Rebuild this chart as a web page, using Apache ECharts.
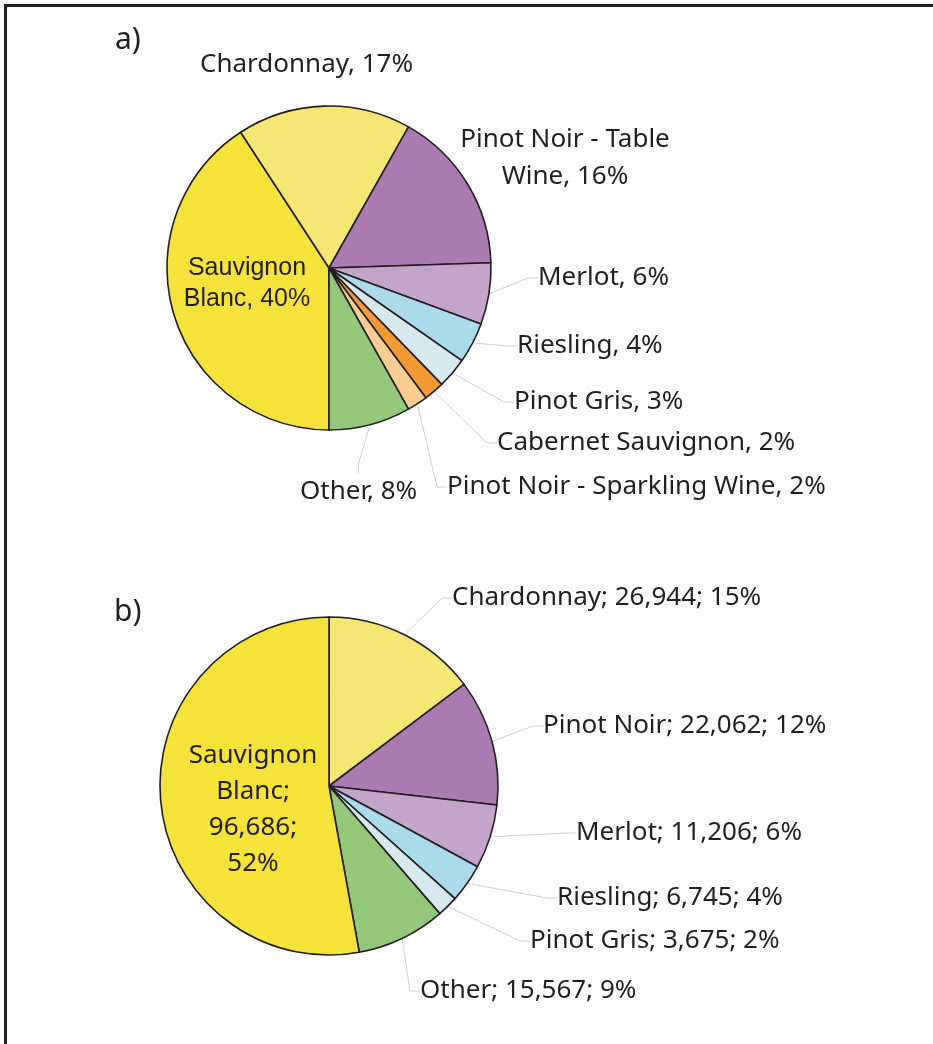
<!DOCTYPE html>
<html>
<head>
<meta charset="utf-8">
<script src="https://cdn.jsdelivr.net/npm/echarts@6/dist/echarts.min.js"></script>
<style>
  html, body { margin: 0; padding: 0; background: #fff; }
  #frame {
    position: absolute; left: 4px; top: 4px; width: 929px; height: 1040px;
    border-top: 3px solid #231f20; border-left: 3px solid #231f20;
    box-sizing: border-box;
  }
  #chart { position: absolute; left: 0; top: 0; width: 933px; height: 1044px; }
</style>
</head>
<body>
<div id="frame"></div>
<div id="chart"></div>
<script>
// a) share of planted area by variety (percent), clockwise from 6 o'clock
const namesA = ['Sauvignon Blanc', 'Chardonnay', 'Pinot Noir - Table Wine', 'Merlot', 'Riesling',
  'Pinot Gris', 'Cabernet Sauvignon', 'Pinot Noir - Sparkling Wine', 'Other'];
const valuesA = [40, 17, 16, 6, 4, 3, 2, 2, 8];
const labelsA = ['Sauvignon\nBlanc, 40%', 'Chardonnay, 17%', 'Pinot Noir - Table\nWine, 16%', 'Merlot, 6%',
  'Riesling, 4%', 'Pinot Gris, 3%', 'Cabernet Sauvignon, 2%', 'Pinot Noir - Sparkling Wine, 2%', 'Other, 8%'];

// b) production by variety (tonnes; percent), clockwise from 12 o'clock
const namesB = ['Chardonnay', 'Pinot Noir', 'Merlot', 'Riesling', 'Pinot Gris', 'Other', 'Sauvignon Blanc'];
const valuesB = [26944, 22062, 11206, 6745, 3675, 15567, 96686];
const labelsB = ['Chardonnay; 26,944; 15%', 'Pinot Noir; 22,062; 12%', 'Merlot; 11,206; 6%',
  'Riesling; 6,745; 4%', 'Pinot Gris; 3,675; 2%', 'Other; 15,567; 9%', 'Sauvignon\nBlanc;\n96,686;\n52%'];

const colorsA = ['#f5e23a', '#f6e673', '#ad7bb4', '#c5a4cb', '#a9dbeb', '#d5e9ef', '#f49a34', '#f9cd92', '#93c87b'];
const colorsB = ['#f6e673', '#ad7bb4', '#c5a4cb', '#a9dbeb', '#d5e9ef', '#93c87b', '#f5e23a'];

// label anchor positions [x, y, align]
const posA = [[247, 284, 'center'], [200, 65, 'left'], [565, 158, 'center'], [538, 278, 'left'],
  [517, 346, 'left'], [514, 402, 'left'], [497, 443, 'left'], [447, 487, 'left'], [300, 492, 'left']];
const posB = [[452, 598, 'left'], [543, 726, 'left'], [576, 833, 'left'],
  [557, 898, 'left'], [530, 941, 'left'], [420, 991, 'left'], [253, 810, 'center']];

const textFont = 'Noto Sans';
const lineStyle = { color: '#cfcfcf', width: 1 };

function buildData(names, values, labels, colors, inside, insideLabel, noLine) {
  return names.map((n, i) => ({
    name: n,
    value: values[i],
    itemStyle: { color: colors[i] },
    label: i === inside
      ? Object.assign({ position: 'inside', formatter: labels[i] }, insideLabel)
      : { formatter: labels[i] },
    labelLine: { show: noLine.indexOf(i) < 0 }
  }));
}

function layoutFrom(pos) {
  return function (params) {
    const p = pos[params.dataIndex];
    return { x: p[0], y: p[1], align: p[2], verticalAlign: 'middle' };
  };
}

const chart = echarts.init(document.getElementById('chart'));
chart.setOption({
  animation: false,
  title: [
    { text: 'a)', left: 110, top: 20, textStyle: { fontFamily: textFont, fontSize: 30, fontWeight: 'normal', color: '#231f20' } },
    { text: 'b)', left: 109, top: 592, textStyle: { fontFamily: textFont, fontSize: 30, fontWeight: 'normal', color: '#231f20' } }
  ],
  series: [
    {
      type: 'pie',
      center: [329, 268],
      radius: 162,
      startAngle: 270,
      clockwise: true,
      avoidLabelOverlap: false,
      itemStyle: { borderColor: '#231f20', borderWidth: 1.6 },
      label: { fontFamily: textFont, fontSize: 26, color: '#231f20', lineHeight: 37, align: 'center' },
      labelLine: { lineStyle: lineStyle, length: 10, length2: 10 },
      labelLayout: layoutFrom(posA),
      emphasis: { disabled: true },
      data: buildData(namesA, valuesA, labelsA, colorsA, 0,
        { fontFamily: 'Liberation Sans', fontSize: 25, lineHeight: 31 }, [0, 1, 2])
    },
    {
      type: 'pie',
      center: [329, 786],
      radius: 169,
      startAngle: 90,
      clockwise: true,
      avoidLabelOverlap: false,
      itemStyle: { borderColor: '#231f20', borderWidth: 1.6 },
      label: { fontFamily: textFont, fontSize: 26, color: '#231f20', align: 'center' },
      labelLine: { lineStyle: lineStyle, length: 10, length2: 10 },
      labelLayout: layoutFrom(posB),
      emphasis: { disabled: true },
      data: buildData(namesB, valuesB, labelsB, colorsB, 6,
        { fontFamily: textFont, fontSize: 26, lineHeight: 36 }, [6])
    }
  ]
});
</script>
</body>
</html>
